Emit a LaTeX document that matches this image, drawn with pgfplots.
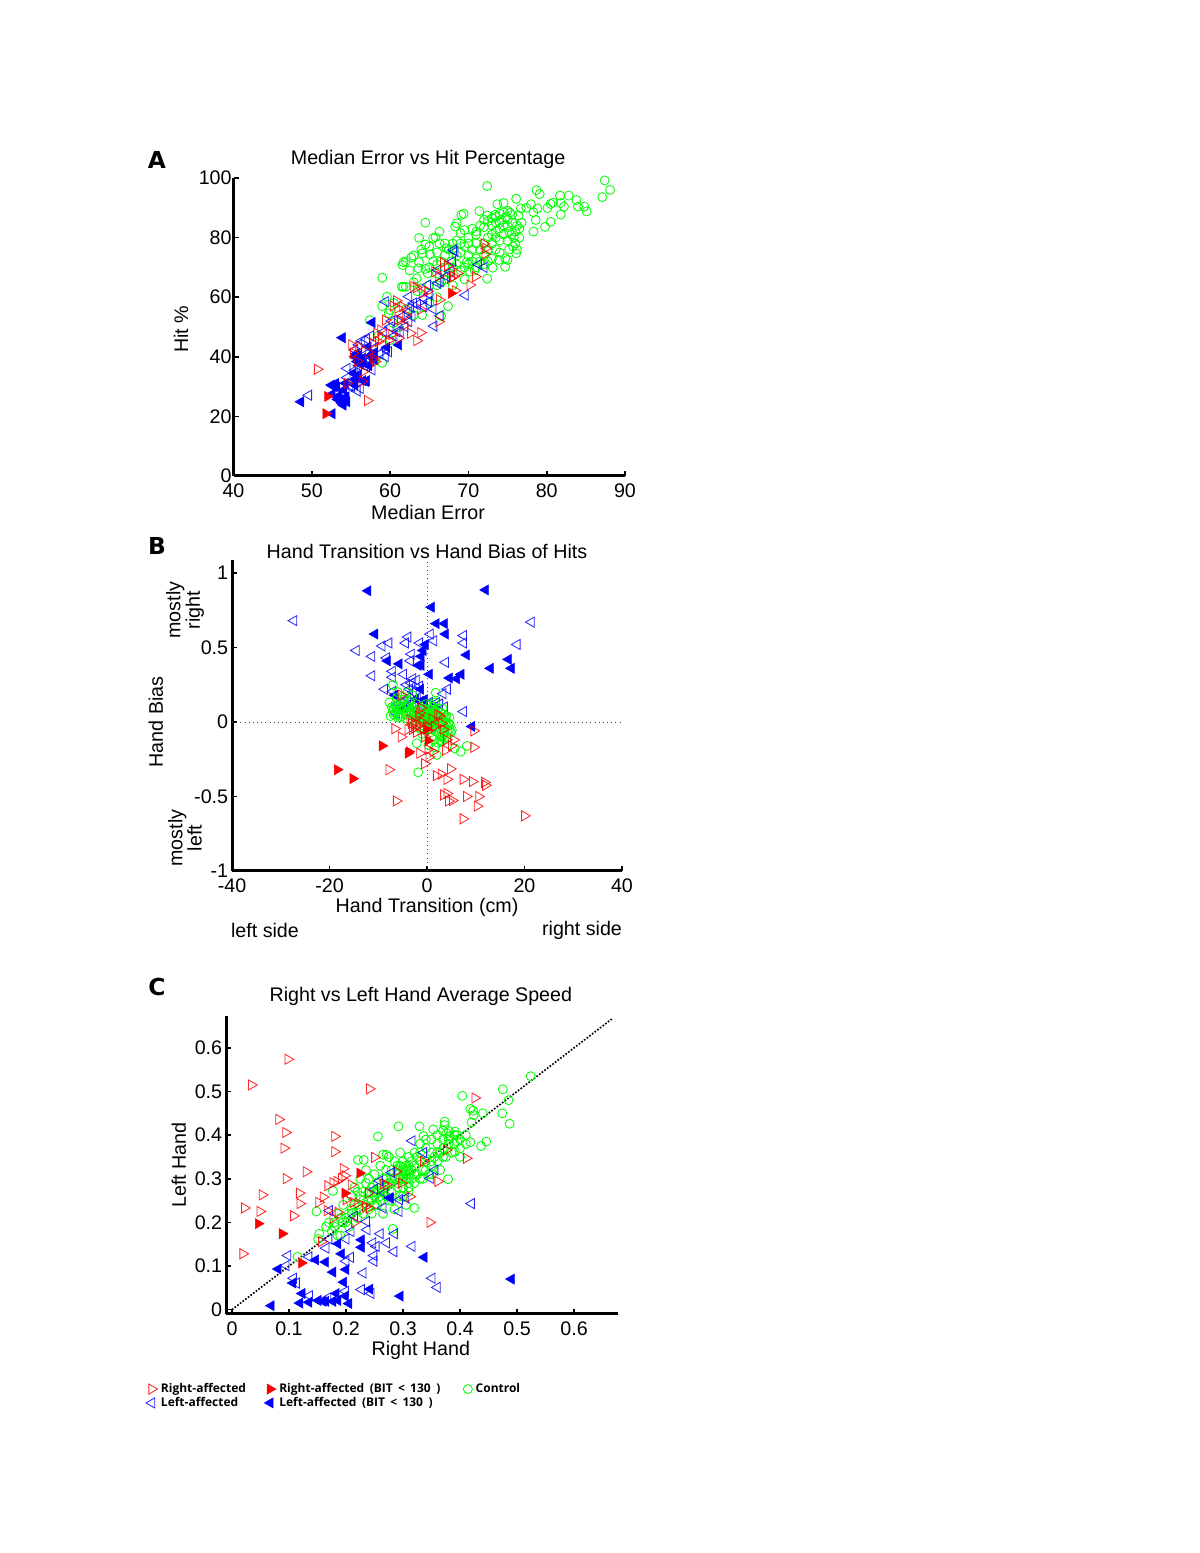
\documentclass[border=0pt]{standalone}
\usepackage{pgfplots}
\pgfplotsset{compat=1.18}
\usepackage{fontspec}
\setmainfont{Liberation Sans}
\newfontfamily\panelfont{DejaVu Sans}
\newfontfamily\legfont{Open Sans}
\definecolor{rr}{rgb}{1,0,0}
\definecolor{bb}{rgb}{0,0,1}
\definecolor{gg}{rgb}{0,1,0}
\pgfplotsset{
 panel/.style={scale only axis,axis x line*=bottom,axis y line*=left,
  axis line style={line width=1.8pt,-},
  tick style={line width=1pt,black},
  tick align=inside,major tick length=3pt,
  /pgf/number format/assume math mode=true,
  tick label style={font=\fontsize{11.8}{14}\selectfont},
  xticklabel style={yshift=-1.2pt},yticklabel style={xshift=1.2pt},
  label style={font=\fontsize{11.8}{14}\selectfont},
  title style={font=\fontsize{11.8}{14}\selectfont},
  xtick pos=bottom,ytick pos=left,scaled ticks=false,clip=false},
 ro/.style={only marks,mark=triangle,mark size=3.5pt,rr,mark options={rotate=-90,rr,line width=.5pt,draw opacity=.85,fill=none}},
 rf/.style={only marks,mark=triangle*,mark size=3.5pt,rr,mark options={rotate=-90,rr,line width=.3pt,fill=rr}},
 bo/.style={only marks,mark=triangle,mark size=3.5pt,bb,mark options={rotate=90,bb,line width=.5pt,draw opacity=.85,fill=none}},
 bf/.style={only marks,mark=triangle*,mark size=3.5pt,bb,mark options={rotate=90,bb,line width=.3pt,fill=bb}},
 go/.style={only marks,mark=o,mark size=2.7pt,gg,mark options={gg,line width=.5pt,fill=none}},
}
\newcommand{\T}[3]{\node[font=\fontsize{11.8}{14}\selectfont,align=center] at ({#1*0.6pt},{(1553-#2)*0.6pt}) {#3};}
\newcommand{\PL}[3]{\node[font=\panelfont\bfseries\fontsize{14}{16}\selectfont] at ({#1*0.6pt},{(1553-#2)*0.6pt}) {#3};}
\begin{document}
\begin{tikzpicture}
\path (0,0) rectangle (720pt,931.8pt);
%---------------- A
\begin{axis}[panel,at={(140.1pt,646.2pt)},anchor=south west,width=234.9pt,height=178.8pt,
 yticklabel style={xshift=1.2pt},
 xmin=40,xmax=90,ymin=0,ymax=100,xtick={40,50,...,90},ytick={0,20,...,100},
 title={Median Error vs Hit Percentage},title style={at={(axis description cs:0.497,1.03)},anchor=center},
 xlabel={Median Error},xlabel style={at={(axis description cs:0.497,-0.121)},anchor=center},
 ylabel={Hit \%},ylabel style={at={(axis description cs:-0.134,0.493)},anchor=center,rotate=0}]
\addplot[go] coordinates {(72.4,97.3)(87.4,99.2)(88.1,96.0)(87.1,93.6)(78.7,95.9)(79.1,94.6)(76.1,93.0)(81.7,94.1)(82.8,94.1)(83.8,92.6)(84.8,90.4)(85.1,88.8)(84.0,90.4)(82.2,90.4)(81.8,91.6)(80.8,91.7)(80.5,91.3)(80.1,89.9)(81.8,87.7)(80.5,85.3)(79.8,83.6)(78.3,82.0)(78.6,85.9)(78.3,88.5)(78.8,89.8)(78.0,91.2)(77.4,90.0)(76.7,89.8)(76.4,87.4)(74.5,91.6)(73.7,91.2)(71.4,88.9)(72.4,87.4)(73.4,87.6)(69.4,88.0)(69.1,87.6)(68.5,84.8)(68.3,83.7)(64.5,85.0)(63.7,79.9)(66.3,82.0)(65.8,80.1)(65.5,79.8)(64.5,77.7)(66.3,78.1)(67.2,76.4)(65.1,74.4)(64.1,74.7)(62.7,73.3)(61.7,71.7)(61.6,70.8)(63.7,71.7)(64.5,69.5)(63.6,69.7)(59,66.5)(61.5,63.5)(62,63.5)(63.4,66.3)(72.4,66.2)(74.7,70.2)(73.9,72.5)(75,72.5)(76.1,74.7)(73.1,69.9)(70.2,68.6)(69.8,71.7)
(73.5,87)(74,88)(74.5,88.5)(75,89)(75.3,88.4)(75.6,87.7)(74.8,87)(74.2,86)(73.5,85)(73,84)(72.5,85.5)(72,83.5)(71.5,84)(71,82)(70.5,83)(70,80)(69.5,82.5)(69,81.5)(68.5,79)(68,78)(67.5,76)(67,74)(66.5,72)(66,71)(65.5,72)(65,70)(64.8,68)(66,68)(67,70)(67.8,72)(68.5,74)(69,75)(69.5,77)(70,74)(70.5,76)(71,78)(71.5,76)(72,78)(72.5,80)(73,78)(73.5,80)(74,79)(74.5,81)(75,84)(75.2,82)(75.5,81)(75.8,80)(76,82)(76.2,84)(76.5,83)(76.8,85)(75.6,85)(75,86)(74.5,84)(74,83)(73.5,82)(73,81)(72.5,76)(72,74)(71.5,72)(71,73)(70.5,72)(70,71)(69.5,70)(69,69)(68.5,71)(68,70)(67.5,68)(67,66)(66.5,65)(66,64)(65,64)(64,63)(63.5,62)(63,65)(62.5,69)(62,72)(63,74)(64,76)(65,77)(66,75)(67,78)(68,76)(69,78)(70,78)(71,81)(72,86)(73,86.5)(74,85)(75,79)(76,78)(76.5,80)(76.2,76)(75.7,77)(75.2,76)(74.7,73)(74,75)(73.5,76)(73,73)(72.5,72)(72,71)(71,70)(70.8,69)(69.5,66)(68,64)
(57.4,52.3)(59,38)(67.4,57)(64.1,54)(66.5,53.7)(60,55.7)(59.8,54.6)(61.7,63.5)(60,45.6)(59.6,60.2)(60.4,51.3)(60.5,58)(62,56)(63,54)(59,57)(58.5,47)(61,50)(66,60)(65,58)};
\addplot[bf] coordinates {(48.6,24.9)(52.6,20.9)(53.9,46.4)(57.7,51.5)(61.1,44)(59.6,43.2)(57.2,43.4)(55.5,40)(56,38.9)(56.6,38)(58,41.4)(55.3,34.5)(55.5,32.4)(56.9,31.7)(53.1,31.1)(54.3,31.1)(54.1,28.9)(52.6,27.5)(53.3,25.7)(54.5,24.9)(54,23.8)(53.6,25.5)(55.8,38.4)(54.4,26.6)
(53.5,27)(54,25)(53.8,24.5)(52.8,30)(53.2,29.8)(52.5,30.5)(55.8,33)(56,34)(55.5,30.5)(56.5,32)(57,32)(56.5,39.5)(56,40.5)(58,39)(57.5,40.5)(55.7,41)(56.2,37.5)(57.3,37)};
\addplot[bo] coordinates {(68.1,75.8)(68.3,75.3)(71.3,71)(72,70)(69.6,60.7)(66.1,69.1)(66.1,64.7)(64.8,64.1)(66.4,65.2)(67.7,68.6)(62.4,60.2)(59.4,58.5)(64.3,59.6)(64.9,58.5)(64.3,56.8)(62.6,56.8)(62.4,55.1)(66.4,53.8)(65.6,50.3)(61.5,53.5)(62.4,51.8)(61.9,50.1)(61.3,48.4)(59.2,48.4)(57,45.9)(56.4,45.4)(59.8,41.7)(59.4,40)(54.5,36.1)(57.7,35.6)(49.6,27.1)(56.2,29.4)(55.1,30)(60.9,48.4)(55.5,42.3)(57,36.7)(57.5,38.9)
(60,50)(60.5,47)(60.2,52)(62.8,53.5)(63,58)(65,61)(65.5,56)(58,43)(58.7,41)(56,37)(55.5,35.5)(54.5,33)(55.8,28.5)(54.8,30)(57,41)(57.5,47)(56,44)(59.5,42.5)(63.5,57.5)(67.2,67)(68,72)};
\addplot[rf] coordinates {(67.8,61.3)(52,26.7)(51.8,20.9)};
\addplot[ro] coordinates {(50.7,35.8)(57.1,25.3)(72,77.9)(72.2,76.4)(72.1,74.5)(66.8,71.6)(68.1,66.9)(70.9,66.9)(70.2,64.1)(68.3,62.2)(67.7,66.3)(66.2,67.1)(63,63.5)(63.4,63.3)(64.1,61.3)(60.8,58.8)(60.4,57)(61,56.3)(63.9,55.9)(66.3,59.1)(59.4,52.3)(66.2,51.8)(61.6,56.8)(61.3,52.3)(63.9,48.1)(63.4,45.4)(62.6,47.9)(61.1,46.2)(58.3,47.9)(58.9,46.2)(55.1,44)(55.3,41.2)(56,43.4)(57.9,39.5)(56.4,31.7)(54.5,31.1)(58.5,45.1)(58.1,38.4)
(59.8,45.5)(61,52.5)(62,54)(58.8,49)(57.8,44.5)(60.2,47.5)(61.8,50.5)(56.5,35)(57.2,41.5)(55.8,38.5)(64.8,62)(65.7,68.5)(67.3,70.5)(68.6,68)};
\end{axis}
%---------------- B
\begin{axis}[panel,at={(139.2pt,409.2pt)},anchor=south west,width=234pt,height=186.6pt,
 xmin=-40,xmax=40,ymin=-1,ymax=1.087,xtick={-40,-20,0,20,40},ytick={-1,-0.5,0,0.5,1},
 title={Hand Transition vs Hand Bias of Hits},title style={at={(axis description cs:0.5,0.995)},anchor=center},
 xlabel={Hand Transition (cm)},xlabel style={at={(axis description cs:0.5,-0.116)},anchor=center},
 ylabel={Hand Bias},ylabel style={at={(axis description cs:-0.195,0.479)},anchor=center}]
\addplot[dotted,black!70,line width=.5pt,forget plot] coordinates {(-40,0)(40,0)};
\addplot[dotted,black!70,line width=.5pt,forget plot] coordinates {(0,-1)(0,1.087)};
\addplot[bf] coordinates {(-12.1,.88)(12,.886)(.9,.77)(1.9,.66)(3.6,.66)(-10.7,.59)(3.8,.59)(-.3,.52)(-.8,.48)(-1.2,.44)(8.1,.45)(-8.1,.41)(-5.7,.39)(-1.2,.38)(-1.8,.38)(.5,.32)(7,.32)(6.1,.29)(4.6,.295)(13,.36)(16.7,.42)(17.3,.36)(-1.3,.22)(-6.6,.18)(-2.3,.154)(-.5,.15)(-4.6,.094)(9.2,-.03)};
\addplot[bo] coordinates {(-27.3,.68)(21.4,.67)(18.5,.52)(7.5,.58)(7.5,.53)(.7,.59)(1.4,.545)(-3.9,.57)(-4.4,.53)(-7.8,.53)(-9.2,.51)(-1.5,.53)(-14.5,.48)(-11.3,.44)(-3.2,.455)(-3.4,.41)(-8.3,.43)(3.8,.4)(-7.1,.34)(-7.1,.3)(-11.3,.31)(-4.8,.32)(-2.9,.29)(-2.2,.28)(-4.2,.25)(-3.2,.26)(-1.5,.24)(-8.7,.22)(-7,.205)(4.2,.22)(3.3,.19)(2.6,.12)(3.6,.1)(7.5,.07)(-6.3,.06)(-2.2,.08)(-1.2,.14)(.2,.116)(1.2,-.03)(-4.5,.14)(-3.5,.12)(-.5,.07)(1.5,.1)
(-6,.12)(-5.2,.1)(-4,.16)(-3,.13)(-2,.16)(-1,.11)(.5,.13)(2,.13)(-2.8,.2)(-3.6,.22)};
\addplot[go] coordinates {(-7,.248)(-7.7,.132)(-7.5,.04)(-2.1,-.143)(-1.8,-.338)(2,-.221)(6.9,-.199)(8.2,-.161)(5.7,-.177)(1.8,.197)(4.7,-.02)(5.1,-.054)(4,-.099)(2.7,-.121)(1.6,-.17)(.3,-.154)
(-7.2,.1)(-7,.07)(-6.8,.05)(-6.5,.12)(-6.2,.16)(-6,.03)(-5.8,.09)(-5.5,.13)(-5.2,.04)(-5,.08)(-4.8,.15)(-4.5,.06)(-4.2,.11)(-4,.02)(-3.8,.07)(-3.5,.14)(-3.2,.05)(-3,.1)(-2.8,.01)(-2.5,.06)(-2.2,.12)(-2,.03)(-1.8,.08)(-1.5,-.01)(-1.2,.05)(-1,.09)(-.8,.02)(-.5,.06)(-.2,.03)(0,.07)(.2,.01)(.4,.04)(.6,.08)(.8,.02)(1,.05)(1.2,.0)(1.4,.03)(1.6,.07)(1.8,.01)(2,.04)(2.2,.09)(2.4,-.01)(2.6,.03)(2.8,.06)(3,-.02)(3.2,.02)(3.4,.05)(3.6,-.04)(3.8,.0)(4,.04)(4.2,-.06)(.5,-.03)(.9,-.05)(1.3,-.02)(1.7,-.06)(2.1,-.04)(2.5,-.08)(2.9,-.05)(3.3,-.09)(1,-.1)(1.5,-.12)(2.3,-.14)(3,-.13)(3.5,-.11)(-.5,-.05)(-1,-.08)(-1.5,-.04)(-2,-.02)(-.2,.12)(.7,.12)(1.1,.1)(1.6,.13)(-3,.18)(-4,.2)(-5,.17)(-6,.2)(3.2,.09)(.5,.0)(.8,.03)(1,.01)(.3,.05)(.1,.02)(.6,.06)(1.4,.06)(1.1,.02)
(0,.03)(.3,.02)(.7,.03)(1.2,.03)(1.5,.01)(.2,.06)(.9,.06)(1.7,.04)(-.3,.05)(-.6,.02)(1,.08)(1.9,.06)(2.3,.02)(2.7,.0)(.4,.0)(1.3,.05)(-1,.03)(-1.4,.02)(-1.7,.05)(-2.3,.04)(-2.7,.07)(-3.4,.08)(-3.7,.1)(-4.3,.05)(-4.7,.1)(-5.5,.03)(-6.5,.06)(-6.8,.09)(-6.3,.1)(-5.9,.05)(-5.3,.1)(3.7,.03)(4.4,-.01)(4.6,.03)(4.2,-.03)(3.5,-.07)(2.8,-.1)(4.6,-.05)(4.9,-.07)};
\addplot[rf] coordinates {(-9.2,-.16)(-3.7,-.2)(-3.9,-.21)(-18.4,-.32)(-15.2,-.38)(.2,-.125)(-.1,-.05)};
\addplot[ro] coordinates {(-6.6,-.045)(-5.3,-.1)(-3.2,-.01)(-2.2,-.07)(-.8,-.05)(.2,-.185)(-1.5,-.21)(.4,-.235)(-.5,-.28)(1.2,-.2)(3.8,-.19)(5.5,-.12)(9.6,-.17)(9.6,-.06)(-7.8,-.32)(4.8,-.315)(1.9,-.36)(2.9,-.35)(4.1,-.385)(7.4,-.385)(9.3,-.4)(11.8,-.405)(12,-.425)(3.4,-.49)(4.1,-.48)(8.1,-.5)(10.6,-.5)(4.4,-.53)(5.2,-.527)(-6.3,-.53)(10.3,-.565)(7.4,-.65)(20,-.63)(-5.3,.18)(-1.2,.094)(-3.5,.015)(-2.5,-.01)(-1.5,-.02)(-.1,-.03)(2.6,.04)(3.3,-.05)(5,-.16)(.2,-.06)(-3.9,-.05)(-1.8,.04)(-2.6,-.04)(-1,.0)(1,.02)(4,-.12)
(-.5,-.1)(-3,-.05)(1.5,-.03)(2.2,.05)(3,-.01)(-1.5,.06)};
\end{axis}
\node[font=\fontsize{11.8}{11.6}\selectfont,rotate=90,align=center] at ({185*0.6pt},{(1553-610)*0.6pt}) {mostly\\right};
\node[font=\fontsize{11.8}{11.6}\selectfont,rotate=90,align=center] at ({185*0.6pt},{(1553-838)*0.6pt}) {mostly\\left};
\T{265}{930}{left side}
\T{582}{930}{right side}
%---------------- C
\begin{axis}[panel,at={(135.6pt,143.4pt)},anchor=south west,width=235.2pt,height=178.8pt,
 xmin=-0.0105,xmax=0.677,ymin=-0.01,ymax=0.673,xtick={0,0.1,0.2,0.3,0.4,0.5,0.6},ytick={0,0.1,0.2,0.3,0.4,0.5,0.6},
 xticklabels={0,0.1,0.2,0.3,0.4,0.5,0.6},yticklabels={0,0.1,0.2,0.3,0.4,0.5,0.6},
 title={Right vs Left Hand Average Speed},title style={at={(axis description cs:0.497,1.031)},anchor=center},
 xlabel={Right Hand},xlabel style={at={(axis description cs:0.497,-0.121)},anchor=center},
 ylabel={Left Hand},ylabel style={at={(axis description cs:-0.12,0.5)},anchor=center},
 legend columns=3,
 legend style={at={(-0.205,-0.22)},anchor=north west,draw=none,fill=none,font=\legfont\bfseries\fontsize{7.2}{7.2}\selectfont,
 row sep=-2.7pt,inner sep=0pt,/tikz/every even column/.append style={column sep=6pt}},legend cell align=left]
\addplot[black,densely dotted,line width=1pt,forget plot] coordinates {(0,0)(.666,.666)};
\addplot[go,forget plot] coordinates {(.524,.535)(.475,.505)(.404,.49)(.485,.48)(.474,.45)(.487,.426)(.418,.46)(.423,.456)(.424,.446)(.44,.45)(.42,.429)(.418,.384)(.446,.385)(.437,.375)(.292,.42)(.329,.42)(.353,.413)(.373,.431)(.373,.423)(.256,.397)(.336,.398)(.376,.404)(.391,.408)(.382,.397)(.395,.385)(.391,.362)(.379,.299)(.32,.233)(.282,.185)(.221,.343)(.231,.343)(.271,.355)(.265,.355)(.148,.225)(.153,.174)(.151,.162)(.115,.121)(.177,.272)
(.17,.2)(.18,.19)(.185,.22)(.19,.17)(.195,.24)(.2,.21)(.205,.19)(.21,.26)(.21,.23)(.215,.28)(.22,.24)(.22,.21)(.225,.3)(.225,.26)(.23,.27)(.23,.22)(.235,.32)(.235,.29)(.24,.25)(.24,.3)(.245,.28)(.245,.22)(.25,.27)(.25,.31)(.255,.24)(.255,.29)(.26,.33)(.26,.26)(.265,.3)(.265,.22)(.27,.28)(.27,.32)(.275,.25)(.275,.35)(.28,.3)(.28,.27)(.285,.34)(.285,.23)(.29,.29)(.29,.32)(.295,.26)(.295,.36)(.3,.31)(.3,.34)(.3,.28)(.305,.33)(.305,.3)(.305,.24)(.31,.35)(.31,.32)(.31,.27)(.315,.34)(.315,.3)(.32,.36)(.32,.33)(.32,.29)(.325,.35)(.325,.31)(.33,.38)(.33,.34)(.335,.32)(.335,.3)(.34,.37)(.34,.34)(.345,.31)(.35,.39)(.35,.36)(.35,.33)(.355,.35)(.36,.38)(.36,.34)(.365,.36)(.365,.32)(.37,.39)(.37,.37)(.375,.35)(.38,.41)(.38,.38)(.385,.36)(.39,.38)(.395,.4)(.4,.37)(.4,.35)(.29,.31)(.3,.3)(.295,.33)(.31,.31)(.305,.32)(.29,.28)(.28,.29)(.27,.3)(.26,.28)(.25,.26)(.24,.23)(.23,.25)(.22,.27)(.21,.22)(.2,.2)
(.3,.32)(.31,.33)(.295,.3)(.285,.3)(.305,.31)(.315,.32)(.29,.33)(.3,.325)(.31,.29)(.32,.31)(.28,.32)(.275,.29)(.265,.27)(.255,.27)(.245,.25)(.235,.24)(.225,.23)(.215,.24)(.205,.22)(.195,.2)(.19,.21)(.18,.2)(.175,.18)(.185,.17)(.165,.19)(.34,.32)(.33,.36)(.34,.39)(.36,.4)(.37,.41)(.38,.39)(.39,.4)(.4,.39)(.41,.4)(.41,.38)(.35,.34)(.36,.36)(.37,.35)(.25,.24)(.26,.25)(.24,.27)(.27,.26)(.28,.25)(.3,.26)(.31,.28)(.33,.3)(.35,.31)};
\addplot[bf,forget plot] coordinates {(.069,.009)(.081,.093)(.107,.061)(.147,.114)(.164,.109)(.186,.151)(.192,.128)(.227,.16)(.227,.143)(.337,.12)(.49,.07)(.177,.086)(.2,.092)(.196,.063)(.242,.047)(.295,.031)(.123,.037)(.119,.015)(.135,.017)(.151,.021)(.16,.019)(.165,.019)(.183,.037)(.186,.021)(.199,.031)(.205,.014)(.278,.256)(.177,.019)};
\addplot[bo,forget plot] coordinates {(.316,.387)(.336,.36)(.356,.32)(.348,.301)(.28,.314)(.259,.295)(.25,.276)(.268,.267)(.265,.233)(.294,.252)(.305,.256)(.293,.225)(.42,.243)(.215,.214)(.171,.227)(.236,.202)(.237,.183)(.209,.179)(.2,.162)(.17,.162)(.26,.174)(.285,.174)(.247,.153)(.271,.153)(.253,.145)(.165,.141)(.284,.133)(.316,.145)(.098,.124)(.135,.121)(.208,.12)(.249,.124)(.249,.111)(.2,.111)(.095,.101)(.23,.084)(.108,.072)(.113,.061)(.351,.072)(.36,.051)(.227,.046)(.244,.037)(.199,.042)(.136,.032)(.168,.027)(.277,.256)};
\addplot[rf,forget plot] coordinates {(.224,.313)(.198,.267)(.046,.197)(.088,.174)(.122,.107)};
\addplot[ro,forget plot] coordinates {(.098,.574)(.034,.515)(.241,.506)(.082,.436)(.094,.406)(.18,.397)(.091,.37)(.18,.362)(.13,.316)(.095,.3)(.195,.323)(.25,.349)(.411,.347)(.426,.485)(.376,.366)(.336,.34)(.053,.263)(.118,.267)(.119,.243)(.022,.233)(.049,.225)(.108,.215)(.019,.128)(.152,.246)(.16,.258)(.168,.284)(.177,.291)(.184,.294)(.192,.301)(.198,.307)(.209,.286)(.2,.252)(.212,.246)(.221,.244)(.234,.236)(.239,.267)(.186,.223)(.177,.21)(.215,.2)(.347,.2)(.265,.288)(.297,.29)(.271,.286)(.361,.294)(.157,.156)(.167,.227)(.312,.259)(.241,.233)(.288,.317)};
\addlegendimage{ro}\addlegendentry{Right-affected\hspace*{3pt}}
\addlegendimage{rf}\addlegendentry{Right-affected\hspace{1.4pt} (BIT\hspace{1.3pt} <\hspace{1.3pt} 130\hspace{1.4pt} )}
\addlegendimage{go}\addlegendentry{Control}
\addlegendimage{bo}\addlegendentry{Left-affected}
\addlegendimage{bf}\addlegendentry{Left-affected\hspace{1.4pt} (BIT\hspace{1.3pt} <\hspace{1.3pt} 130\hspace{1.4pt} )}
\addlegendimage{empty legend}\addlegendentry{}
\end{axis}
\PL{157}{160}{A}
\PL{157}{546}{B}
\PL{157}{987}{C}
\end{tikzpicture}
\end{document}
